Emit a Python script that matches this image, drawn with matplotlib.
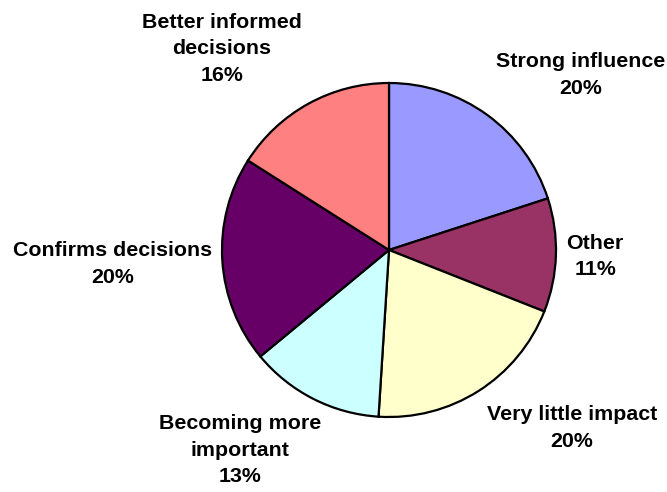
import matplotlib
matplotlib.use("Agg")
import matplotlib.pyplot as plt

categories = ["Strong influence", "Other", "Very little impact",
              "Becoming more important", "Confirms decisions",
              "Better informed decisions"]
values = [20, 11, 20, 13, 20, 16]
label_texts = ["Strong influence", "Other", "Very little impact",
               "Becoming more\nimportant", "Confirms decisions",
               "Better informed\ndecisions"]
colors = ["#9999FF", "#993366", "#FFFFCC", "#CCFFFF", "#660066", "#FF8080"]
label_pos = [(1.147, 1.048), (1.234, -0.04), (1.096, -1.066),
             (-0.892, -1.198), (-1.653, -0.084), (-1.0, 1.204)]

W, H = 667, 492
fig = plt.figure(figsize=(W / 100, H / 100), dpi=100)
cx, cy, r = 389, 250, 167
ax = fig.add_axes([(cx - r) / W, (H - cy - r) / H, 2 * r / W, 2 * r / H])
ax.pie(values, colors=colors, startangle=90, counterclock=False,
       radius=1, wedgeprops=dict(edgecolor="black", linewidth=1.6))
ax.set_xlim(-1, 1)
ax.set_ylim(-1, 1)
ax.set_aspect("equal")
ax.axis("off")

total = sum(values)
for txt, v, (x, y) in zip(label_texts, values, label_pos):
    pct = round(100 * v / total)
    ax.text(x, y, f"{txt}\n{pct}%", ha="center", va="center",
            multialignment="center", fontsize=15.4, fontweight="bold",
            linespacing=1.5,
            family=["Liberation Sans", "DejaVu Sans"], clip_on=False)

fig.savefig("out.png", dpi=100)
